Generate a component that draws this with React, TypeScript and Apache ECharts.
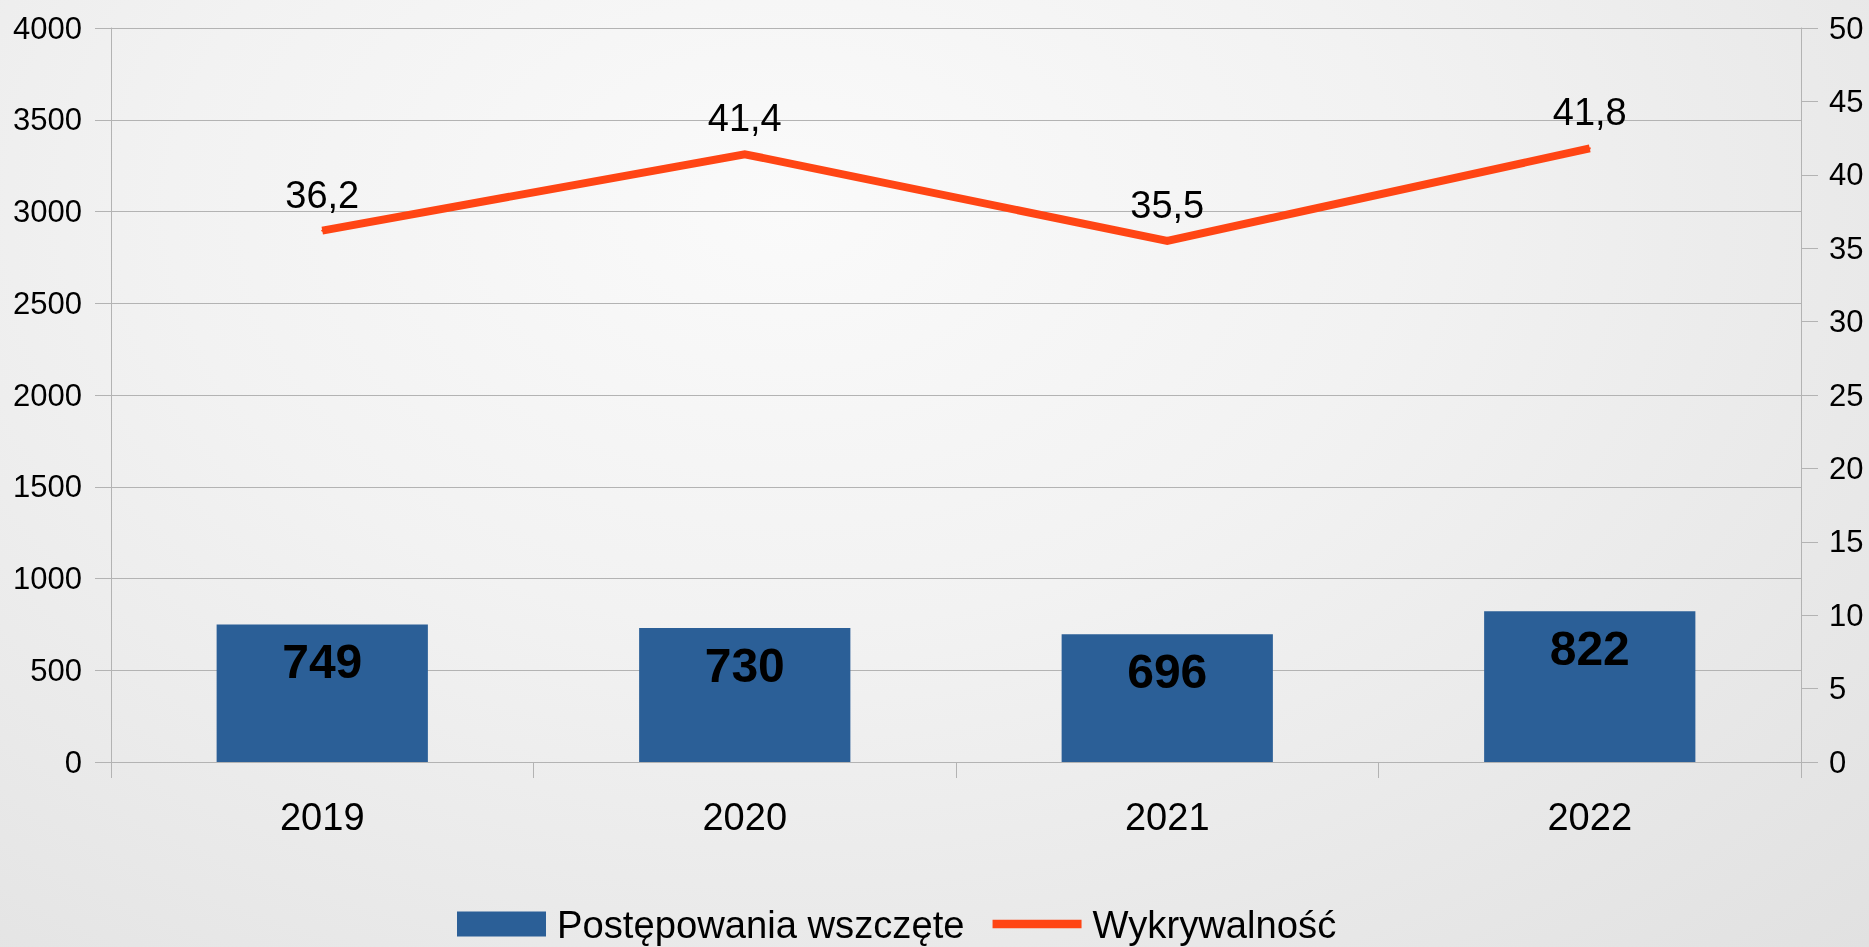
import React, { useEffect, useRef } from "react";
import * as echarts from "echarts";

const years = ["2019", "2020", "2021", "2022"];
const cases = [749, 730, 696, 822];
const detection = [36.2, 41.4, 35.5, 41.8];
const barName = "Postępowania wszczęte";
const lineName = "Wykrywalność";

const FONT = "'Liberation Sans', Arial, sans-serif";
const GRID_COLOR = "#b3b3b3";
const BAR_COLOR = "#2B5F97";
const LINE_COLOR = "#FF4514";

export default function App() {
  const ref = useRef<HTMLDivElement>(null);
  useEffect(() => {
    if (!ref.current) return;
    const chart = echarts.init(ref.current, null, { renderer: "svg" });
    chart.setOption({
      animation: false,
      textStyle: { fontFamily: FONT },
      grid: { left: 111, right: 68, top: 28, bottom: 185, containLabel: false },
      legend: {
        left: 452,
        top: 900,
        itemWidth: 89,
        itemHeight: 25,
        itemGap: 28,
        symbolKeepAspect: true,
        textStyle: { fontSize: 38.2, color: "#000", fontFamily: FONT, padding: [0, 0, 0, 6] },
        data: [
          { name: barName, icon: "rect" },
          { name: lineName, icon: "path://M0,0 H86 V8 H0 Z", itemStyle: { color: LINE_COLOR } },
        ],
      },
      xAxis: {
        type: "category",
        data: years,
        axisLine: { show: true, lineStyle: { color: GRID_COLOR, width: 1 } },
        axisTick: { show: true, length: 16, lineStyle: { color: GRID_COLOR } },
        axisLabel: { fontSize: 38, color: "#000", margin: 36, fontFamily: FONT },
        splitLine: { show: false },
      },
      yAxis: [
        {
          type: "value",
          min: 0,
          max: 4000,
          interval: 500,
          axisLine: { show: true, lineStyle: { color: GRID_COLOR, width: 1 } },
          axisTick: { show: true, length: 16, lineStyle: { color: GRID_COLOR } },
          axisLabel: {
            fontSize: 31,
            color: "#000",
            margin: 29,
            fontFamily: FONT,
            formatter: (v: number) => String(v),
          },
          splitLine: { show: true, lineStyle: { color: GRID_COLOR, width: 1 } },
        },
        {
          type: "value",
          position: "right",
          min: 0,
          max: 50,
          interval: 5,
          axisLine: { show: true, lineStyle: { color: GRID_COLOR, width: 1 } },
          axisTick: { show: true, length: 17, lineStyle: { color: GRID_COLOR } },
          axisLabel: {
            fontSize: 31,
            color: "#000",
            margin: 28,
            fontFamily: FONT,
            formatter: (v: number) => String(v),
          },
          splitLine: { show: false },
        },
      ],
      series: [
        {
          name: barName,
          type: "bar",
          data: cases,
          barWidth: "50%",
          itemStyle: { color: BAR_COLOR },
          label: {
            show: true,
            position: "insideTop",
            distance: 13,
            fontSize: 48,
            fontWeight: "bold",
            color: "#000",
            fontFamily: FONT,
          },
        },
        {
          name: lineName,
          type: "line",
          yAxisIndex: 1,
          data: detection,
          symbol: "circle",
          symbolSize: 2,
          showSymbol: true,
          itemStyle: { color: LINE_COLOR },
          lineStyle: { color: LINE_COLOR, width: 8, join: "miter", cap: "butt" },
          label: {
            show: true,
            position: "top",
            distance: 16,
            fontSize: 38,
            color: "#000",
            fontFamily: FONT,
            formatter: (p: any) => String(p.value).replace(".", ","),
          },
        },
      ],
    });
    return () => chart.dispose();
  }, []);

  return (
    <div
      style={{
        position: "fixed",
        left: 0,
        top: 0,
        width: 1869,
        height: 947,
        background:
          "radial-gradient(ellipse at 42% 22%, #fafafa 0%, #f2f2f2 40%, #e1e1e1 100%)",
      }}
    >
      <div ref={ref} style={{ width: 1869, height: 947 }} />
    </div>
  );
}
